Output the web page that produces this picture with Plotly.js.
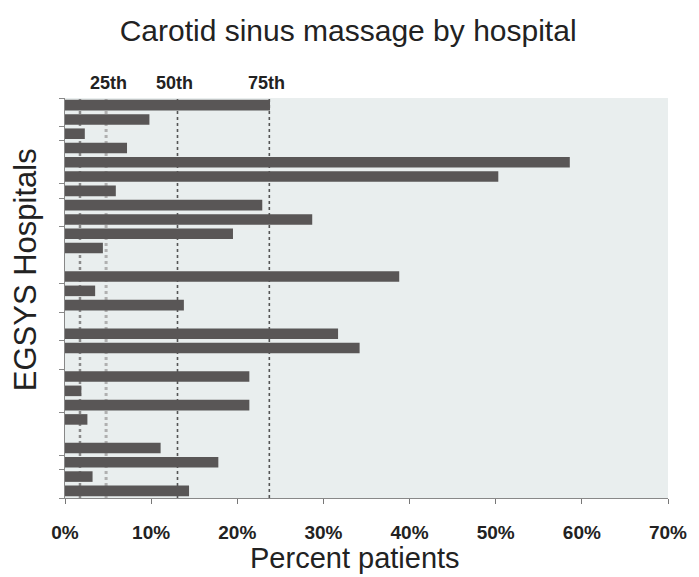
<!DOCTYPE html>
<html>
<head>
<meta charset="utf-8">
<script src="https://cdn.plot.ly/plotly-3.0.1.min.js"></script>
<style>
  html, body { margin: 0; padding: 0; background: #fff; }
  #chart { width: 699px; height: 577px; }
</style>
</head>
<body>
<div id="chart"></div>
<script>
// Hospitals in the order they appear (top to bottom); empty slots have 0%
const hospitals = [
  "H1", "H2", "H3", "H4", "H5", "H6", "H7", "H8", "H9", "H10",
  "H11", "H12", "H13", "H14", "H15", "H16", "H17", "H18", "H19", "H20",
  "H21", "H22", "H23", "H24", "H25", "H26", "H27", "H28"
];
// Percent of patients receiving carotid sinus massage
const csmPercent = [
  23.8, 9.8, 2.3, 7.2, 58.6, 50.3, 5.9, 22.9, 28.7, 19.5,
  4.4, 0, 38.8, 3.5, 13.8, 0, 31.7, 34.2, 0, 21.4,
  1.9, 21.4, 2.6, 0, 11.1, 17.8, 3.2, 14.4
];

// Percentile reference lines
const pctLabels = ["", "25th", "50th", "75th"];
const pctValues = [1.74, 4.77, 13.06, 23.72];

// Odd tick marks on the hospital axis (slot boundaries)
const hospitalTicks = [-0.5, 1.5, 2.5, 5.5, 6.5, 8.5, 12.5, 14.5, 16.5, 18.5, 21.5, 24.5, 25.5, 27.5];

const xTicks = [0, 10, 20, 30, 40, 50, 60, 70];
const xTickText = xTicks.map(v => v + "%");

const slotIndex = hospitals.map((h, i) => i);

const barTrace = {
  type: "bar",
  orientation: "h",
  x: csmPercent,
  y: slotIndex,
  hovertext: hospitals,
  textposition: "none",
  marker: { color: "#595656", line: { width: 0 } }
};

// dotted percentile lines drawn under the bars
const lineStyles = [
  { color: "#8a8a8a", width: 2.5, dash: "dot" },
  { color: "#b0b0b0", width: 3, dash: "dot" },
  { color: "#555555", width: 1.6, dash: "dot" },
  { color: "#555555", width: 1.6, dash: "dot" }
];
const shapes = pctValues.map((v, i) => ({
  type: "line",
  layer: "below",
  xref: "x", yref: "paper",
  x0: v, x1: v, y0: 0, y1: 1,
  line: lineStyles[i]
}));

const annotations = [];
pctValues.forEach((v, i) => {
  if (!pctLabels[i]) return;
  annotations.push({
    xref: "x", yref: "paper",
    x: v, y: 1.037,
    xshift: i === 1 ? 2 : -3,
    text: pctLabels[i],
    showarrow: false,
    xanchor: "center", yanchor: "middle",
    font: { family: "Liberation Sans, Arial, sans-serif", size: 18, color: "#222", weight: "bold" }
  });
});
annotations.push({
  xref: "paper", yref: "paper",
  x: 0.481, y: -0.15,
  text: "Percent patients",
  showarrow: false,
  xanchor: "center", yanchor: "middle",
  font: { family: "Liberation Sans, Arial, sans-serif", size: 29, color: "#222" }
});
annotations.push({
  xref: "paper", yref: "paper",
  x: -0.066, y: 0.57,
  text: "EGSYS Hospitals",
  textangle: -90,
  showarrow: false,
  xanchor: "center", yanchor: "middle",
  font: { family: "Liberation Sans, Arial, sans-serif", size: 31, color: "#222" }
});

const layout = {
  width: 699,
  height: 577,
  margin: { l: 65, r: 31, t: 98, b: 79 },
  paper_bgcolor: "#ffffff",
  plot_bgcolor: "#e9eeee",
  showlegend: false,
  bargap: 0.26,
  title: {
    text: "Carotid sinus massage by hospital",
    x: 0.498, xref: "container",
    y: 0.948, yref: "container", yanchor: "middle",
    font: { family: "Liberation Sans, Arial, sans-serif", size: 30, color: "#222" }
  },
  xaxis: {
    range: [0, 70],
    tickvals: xTicks,
    ticktext: xTickText,
    ticks: "outside",
    ticklen: 5,
    tickcolor: "#777",
    ticklabelstandoff: 12,
    showgrid: false,
    zeroline: false,
    showline: true,
    linecolor: "#888",
    linewidth: 1,
    tickfont: { family: "Liberation Sans, Arial, sans-serif", size: 19, color: "#222", weight: "bold" }
  },
  yaxis: {
    range: [27.5, -0.5],
    tickvals: hospitalTicks,
    showticklabels: false,
    ticks: "outside",
    ticklen: 5,
    tickcolor: "#888",
    showgrid: false,
    zeroline: false,
    showline: true,
    linecolor: "#888",
    linewidth: 1
  },
  shapes: shapes,
  annotations: annotations
};

Plotly.newPlot("chart", [barTrace], layout, { displayModeBar: false, staticPlot: true });
</script>
</body>
</html>
